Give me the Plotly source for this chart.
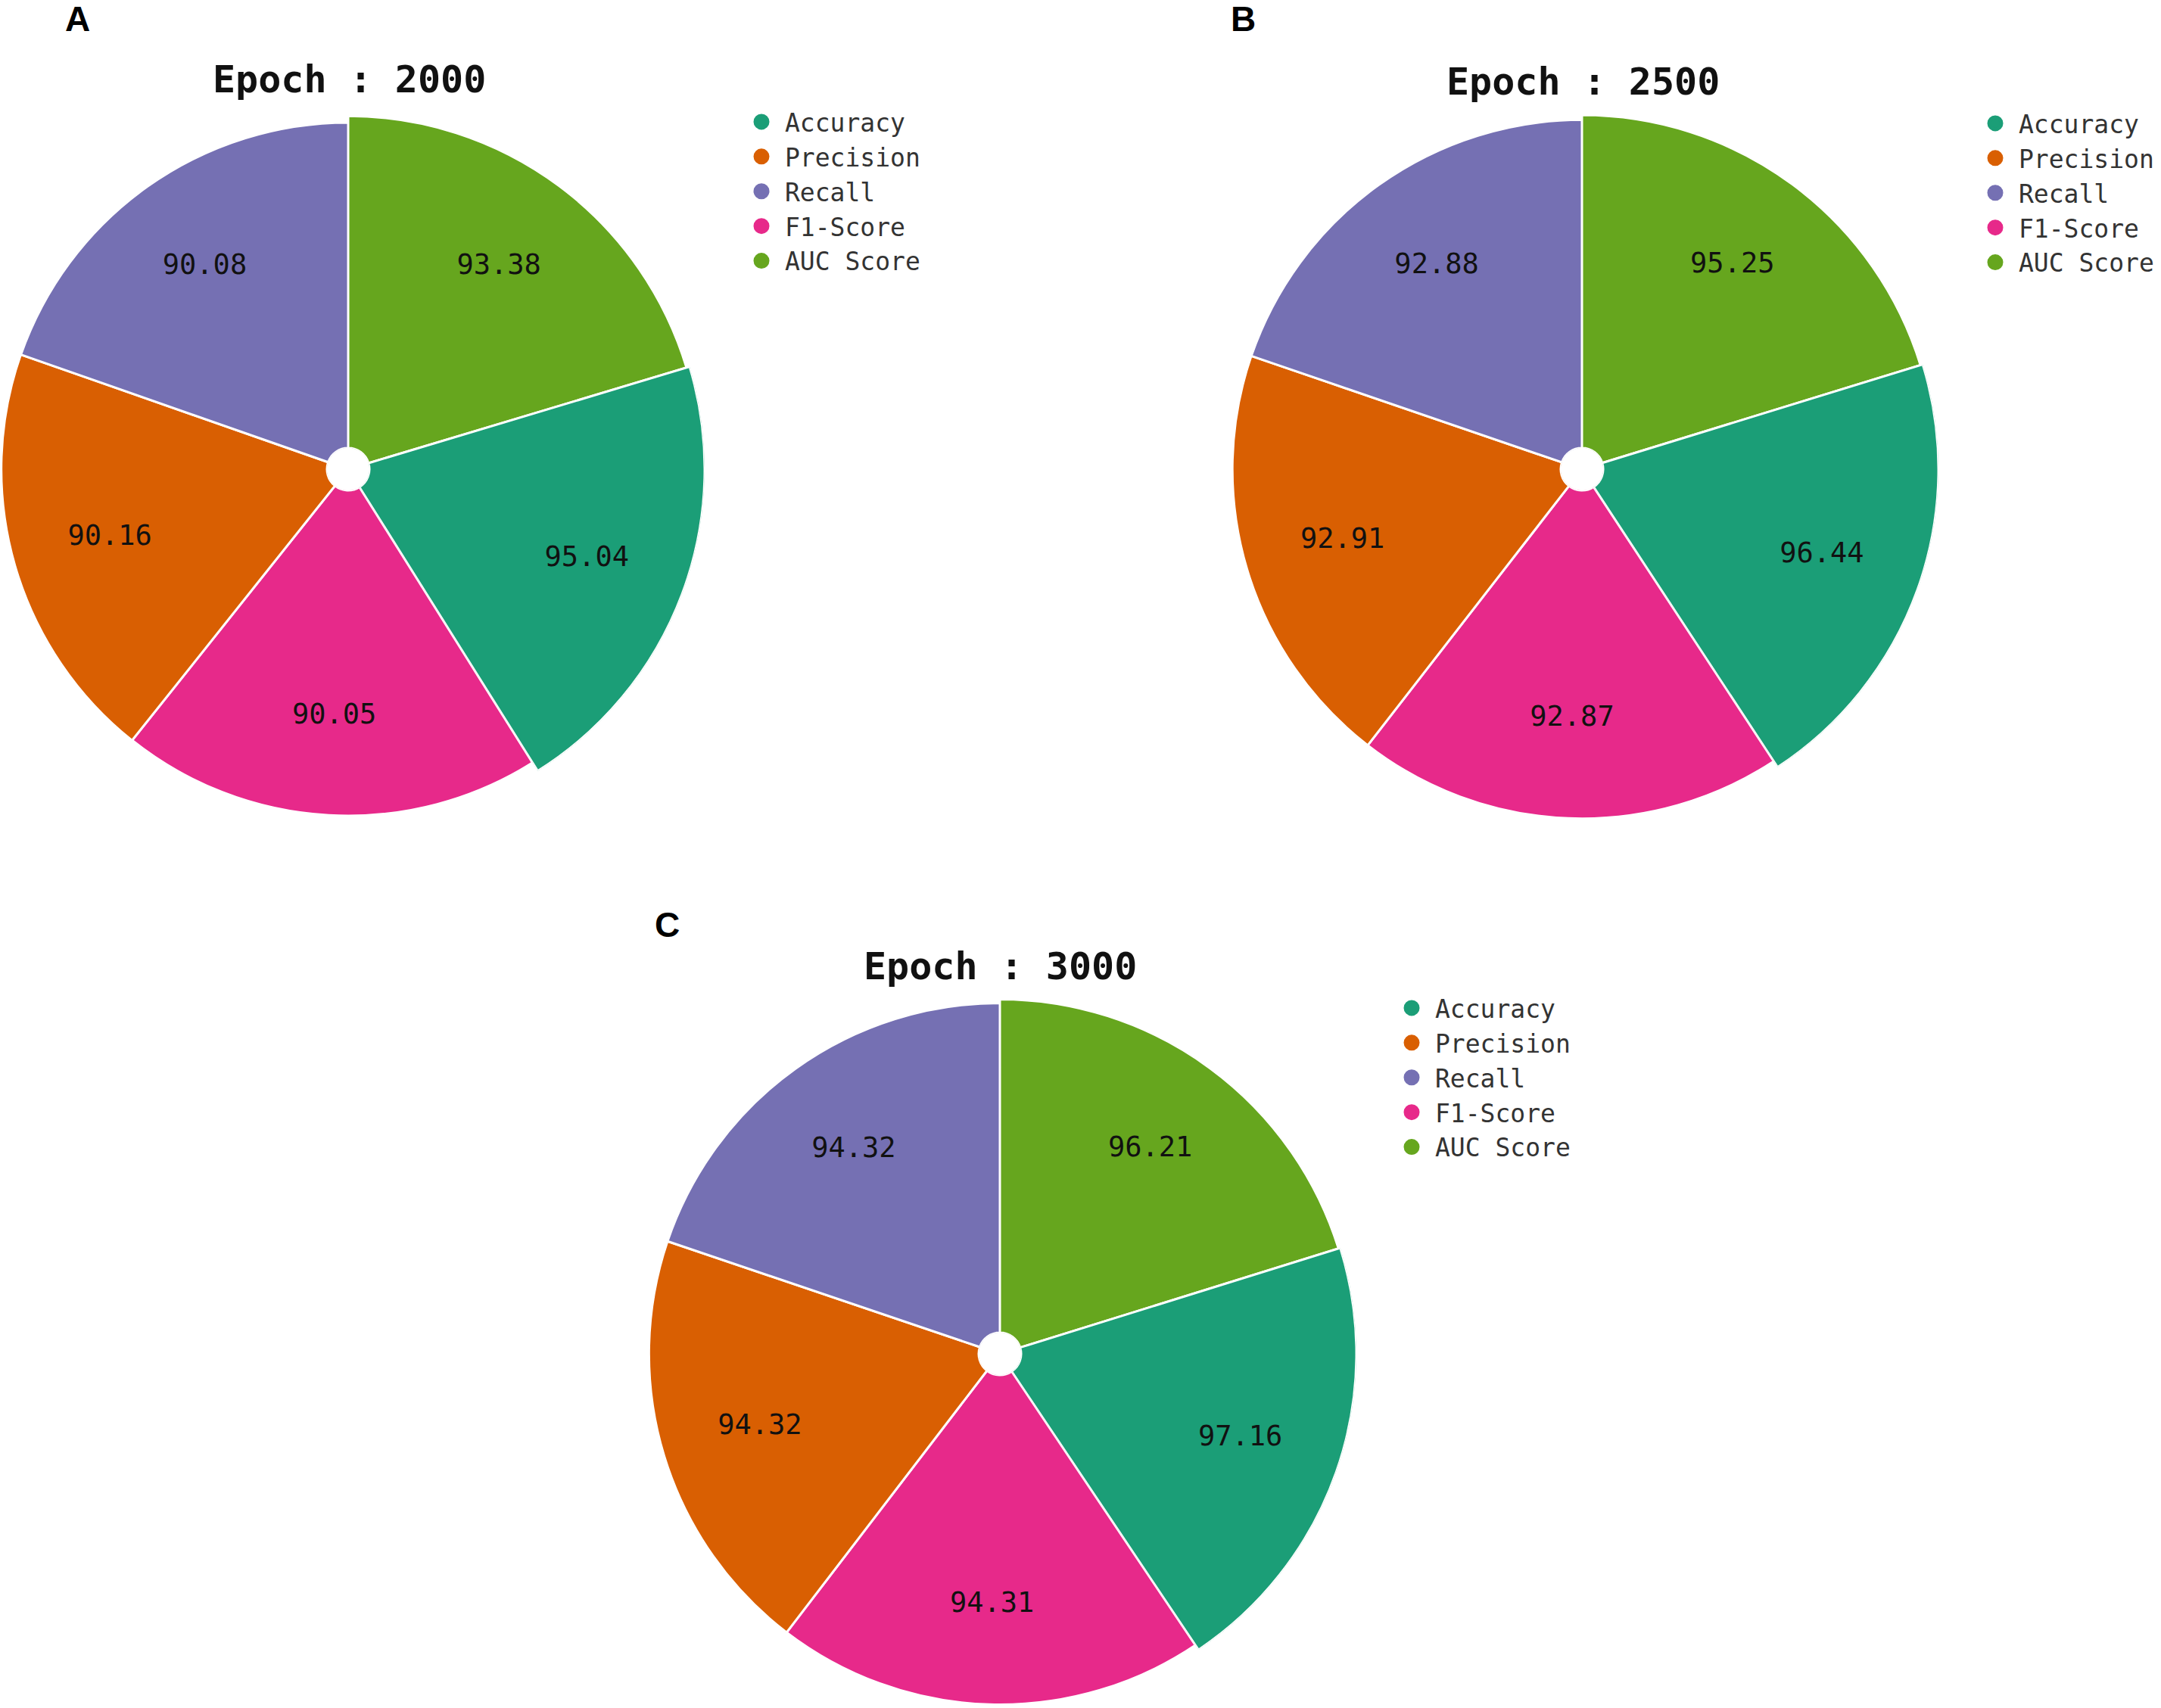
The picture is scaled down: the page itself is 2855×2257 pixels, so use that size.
import math
import plotly.graph_objects as go

# ---------------- data ----------------
categories = ["Accuracy", "Precision", "Recall", "F1-Score", "AUC Score"]
clockwise_order = ["AUC Score", "Accuracy", "F1-Score", "Precision", "Recall"]
colors = ["#1b9e77", "#d95f02", "#7570b3", "#e7298a", "#66a61e"]

epochs = ["2000", "2500", "3000"]
panel_letters = ["A", "B", "C"]
values_2000 = [95.04, 90.16, 90.08, 90.05, 93.38]
values_2500 = [96.44, 92.91, 92.88, 92.87, 95.25]
values_3000 = [97.16, 94.32, 94.32, 94.31, 96.21]
all_values = [values_2000, values_2500, values_3000]

# ---------------- layout constants (pixels) ----------------
W, H = 2855, 2257
centers = [(460, 620), (2090, 620), (1321, 1789)]
R_MAX = 471          # pixel radius of the largest slice
R_HOLE = 28          # pixel radius of white centre hole
SLOPE = 2.6          # pixels per value unit
LABEL_FRAC = 0.715   # label radius as fraction of slice radius
title_pos = [(461, 105), (2091, 108), (1321, 1277)]
letter_pos = [(102, 25), (1642, 25), (881, 1222)]
legend_pos = [(975, 133), (2605, 135), (1834, 1304)]
# the pie is split in two sub-sectors (clockwise slice index ranges)
parts = [(0, 2), (2, 5)]

MONO = "DejaVu Sans Mono"
color_of = dict(zip(categories, colors))


def sector_bbox(a0, a1):
    pts = [(0.0, 0.0),
           (math.cos(math.radians(a0)), math.sin(math.radians(a0))),
           (math.cos(math.radians(a1)), math.sin(math.radians(a1)))]
    k = math.ceil(a0 / 90)
    while k * 90 <= a1:
        a = math.radians(k * 90)
        pts.append((round(math.cos(a)), round(math.sin(a))))
        k += 1
    xs = [p[0] for p in pts]
    ys = [p[1] for p in pts]
    return min(xs), min(ys), max(xs), max(ys)


fig = go.Figure()
annotations = []
layout_extra = {}
sub_id = 0

for i, vals in enumerate(all_values):
    val_of = dict(zip(categories, vals))
    lname = "legend" if i == 0 else f"legend{i+1}"
    vmax = max(vals)
    lo = vmax - (R_MAX - R_HOLE) / SLOPE
    cx, cy = centers[i]

    # pie angles proportional to the values (clockwise from 12 o'clock)
    ordered = [val_of[c] for c in clockwise_order]
    total = sum(ordered)
    spans = [v / total * 360 for v in ordered]
    starts = [sum(spans[:k]) for k in range(len(spans))]

    for j, (k0, k1) in enumerate(parts):
        sub_id += 1
        pname = "polar" if sub_id == 1 else f"polar{sub_id}"
        cats = clockwise_order[k0:k1]
        pv = ordered[k0:k1]
        thetas = [starts[k] + spans[k] / 2 for k in range(k0, k1)]
        widths = spans[k0:k1]

        # geometric sector (counter-clockwise from east)
        a0 = 90 - (starts[k1 - 1] + spans[k1 - 1])
        a1 = 90 - starts[k0]
        bx0, by0, bx1, by1 = sector_bbox(a0, a1)
        lim = [R_MAX]
        if bx0 < 0:
            lim.append(cx / -bx0)
        if by0 < 0:
            lim.append((H - cy) / -by0)
        rd = min(lim)
        hi = lo + (rd - R_HOLE) / SLOPE

        fig.add_trace(go.Barpolar(
            theta=thetas,
            r=[v - lo for v in pv],
            base=lo,
            width=widths,
            marker=dict(color=[color_of[c] for c in cats],
                        line=dict(color="white", width=3)),
            subplot=pname, showlegend=False, hoverinfo="skip",
        ))

        label_r = []
        for v in pv:
            px = R_HOLE + (v - lo) * SLOPE
            label_r.append(lo + (LABEL_FRAC * px - R_HOLE) / SLOPE)
        fig.add_trace(go.Scatterpolar(
            theta=thetas, r=label_r, mode="text",
            text=[f"{v:.2f}" for v in pv],
            textfont=dict(family=MONO, size=37, color="#111111"),
            cliponaxis=False, subplot=pname,
            showlegend=False, hoverinfo="skip",
        ))

        if j == 0:
            for cat, col in zip(categories, colors):
                fig.add_trace(go.Scatterpolar(
                    theta=[None], r=[None], mode="markers", name=cat,
                    marker=dict(color=col, size=16, symbol="circle",
                                line=dict(color=col, width=5)),
                    subplot=pname, legend=lname, showlegend=True,
                ))

        layout_extra[pname] = dict(
            domain=dict(x=[(cx + bx0 * rd) / W, (cx + bx1 * rd) / W],
                        y=[1 - (cy - by0 * rd) / H, 1 - (cy - by1 * rd) / H]),
            sector=[a0, a1],
            hole=R_HOLE / rd,
            bargap=0,
            bgcolor="rgba(0,0,0,0)",
            radialaxis=dict(visible=False, range=[lo, hi]),
            angularaxis=dict(visible=False, direction="clockwise", rotation=90),
        )

    lx, ly = legend_pos[i]
    layout_extra[lname] = dict(
        x=lx / W, y=1 - ly / H, xanchor="left", yanchor="top",
        font=dict(family=MONO, size=33, color="#333333"),
        bgcolor="rgba(0,0,0,0)", itemwidth=52, tracegroupgap=0,
    )

    tx, ty = title_pos[i]
    annotations.append(dict(
        x=tx / W, y=1 - ty / H, xref="paper", yref="paper",
        text=f"Epoch : {epochs[i]}", showarrow=False,
        xanchor="center", yanchor="middle",
        font=dict(family=MONO, size=50, color="#111111", weight="bold"),
    ))
    px_, py_ = letter_pos[i]
    annotations.append(dict(
        x=px_ / W, y=1 - py_ / H, xref="paper", yref="paper",
        text=panel_letters[i], showarrow=False,
        xanchor="center", yanchor="middle",
        font=dict(family="Liberation Sans", size=46, color="#000000", weight="bold"),
    ))

fig.update_layout(
    width=W, height=H,
    margin=dict(l=0, r=0, t=0, b=0),
    paper_bgcolor="white",
    plot_bgcolor="white",
    annotations=annotations,
    **layout_extra,
)

fig.write_html("out.html", config={"displayModeBar": False},
               post_script="document.body.style.margin='0px';")
